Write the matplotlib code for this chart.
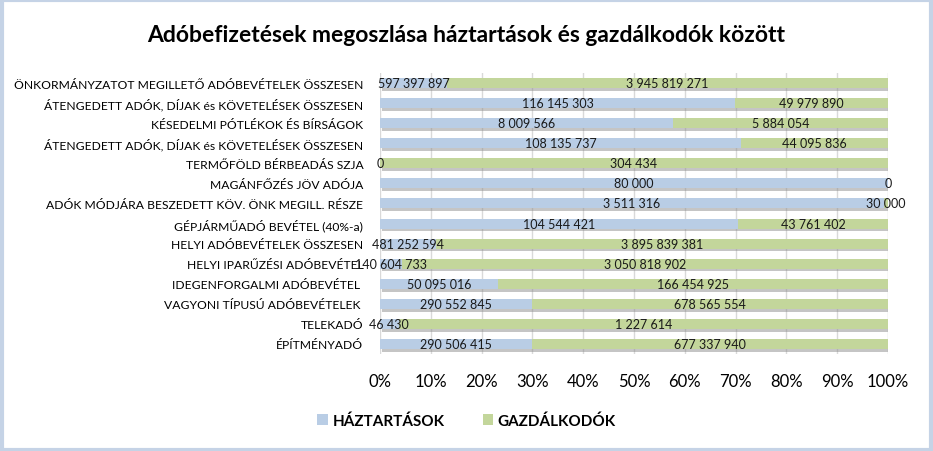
import matplotlib.pyplot as plt
import matplotlib.patheffects as pe
from matplotlib.patches import Patch
import numpy as np

kategoriak = [
    "ÖNKORMÁNYZATOT MEGILLETŐ ADÓBEVÉTELEK ÖSSZESEN",
    "ÁTENGEDETT ADÓK, DÍJAK és KÖVETELÉSEK ÖSSZESEN",
    "KÉSEDELMI PÓTLÉKOK ÉS BÍRSÁGOK",
    "ÁTENGEDETT ADÓK, DÍJAK és KÖVETELÉSEK ÖSSZESEN",
    "TERMŐFÖLD BÉRBEADÁS SZJA",
    "MAGÁNFŐZÉS JÖV ADÓJA",
    "ADÓK MÓDJÁRA BESZEDETT KÖV. ÖNK MEGILL. RÉSZE",
    "GÉPJÁRMŰADÓ BEVÉTEL (40%-a)",
    "HELYI ADÓBEVÉTELEK ÖSSZESEN",
    "HELYI IPARŰZÉSI ADÓBEVÉTEL",
    "IDEGENFORGALMI ADÓBEVÉTEL ",
    "VAGYONI TÍPUSÚ ADÓBEVÉTELEK ",
    "TELEKADÓ",
    "ÉPÍTMÉNYADÓ",
]

haztartasok = [597397897, 116145303, 8009566, 108135737, 0, 80000, 3511316,
               104544421, 481252594, 140604733, 50095016, 290552845, 46430,
               290506415]
gazdalkodok = [3945819271, 49979890, 5884054, 44095836, 304434, 0, 30000,
               43761402, 3895839381, 3050818902, 166454925, 678565554, 1227614,
               677337940]

szin_h = "#B9CDE5"
szin_g = "#C3D69B"


def fmt(v):
    return f"{v:,}".replace(",", " ")


def main():
    plt.rcParams['font.family'] = ['Lato', 'DejaVu Sans']

    h = np.array(haztartasok, dtype=float)
    g = np.array(gazdalkodok, dtype=float)
    ossz = h + g
    hp = h / ossz * 100
    gp = g / ossz * 100
    y = np.arange(len(kategoriak))[::-1]

    fig = plt.figure(figsize=(9.33, 4.52), dpi=100)
    ax = fig.add_axes([0.4073, 0.2146, 0.5445, 0.6217])

    arnyek = [pe.SimplePatchShadow(offset=(1.5, -2), shadow_rgbFace='#8c8c8c', alpha=0.5), pe.Normal()]
    b1 = ax.barh(y, hp, height=0.5, color=szin_h, zorder=3, path_effects=arnyek)
    b2 = ax.barh(y, gp, left=hp, height=0.5, color=szin_g, zorder=3, path_effects=arnyek)

    ax.bar_label(b1, labels=[fmt(v) for v in haztartasok], label_type='center', fontsize=9, color='#1a1a1a', zorder=5)
    ax.bar_label(b2, labels=[fmt(v) for v in gazdalkodok], label_type='center', fontsize=9, color='#1a1a1a', zorder=5)

    ax.set_xlim(0, 100)
    ax.set_ylim(-0.5, len(kategoriak) - 0.5)
    ax.set_xticks(np.arange(0, 101, 10))
    ax.set_xticklabels([f"{t}%" for t in range(0, 101, 10)], fontsize=12)
    ax.set_yticks(y)
    ax.set_yticklabels(kategoriak, fontsize=8.7)
    ax.tick_params(axis='both', length=0)
    ax.tick_params(axis='x', pad=14)
    ax.tick_params(axis='y', pad=12)
    ax.grid(axis='x', color='#D9D9D9', linewidth=1, zorder=0)
    for s in ax.spines.values():
        s.set_visible(False)

    fig.suptitle('Adóbefizetések megoszlása háztartások és gazdálkodók között',
                 fontsize=16.5, fontweight='bold', y=0.945)

    jelek = [Patch(facecolor=szin_h, label='HÁZTARTÁSOK'),
             Patch(facecolor=szin_g, label='GAZDÁLKODÓK')]
    fig.legend(handles=jelek, loc='center', bbox_to_anchor=(0.5, 0.068), ncol=2,
               frameon=False, prop={'weight': 'bold', 'size': 11},
               handlelength=0.7, handleheight=0.7, columnspacing=2.5, handletextpad=0.3)

    keret = plt.Rectangle((0.002, 0.003), 0.996, 0.994, transform=fig.transFigure,
                          fill=False, edgecolor='#C5D3E6', linewidth=3)
    fig.patches.append(keret)

    plt.savefig('out.png', dpi=100)


if __name__ == "__main__":
    main()
